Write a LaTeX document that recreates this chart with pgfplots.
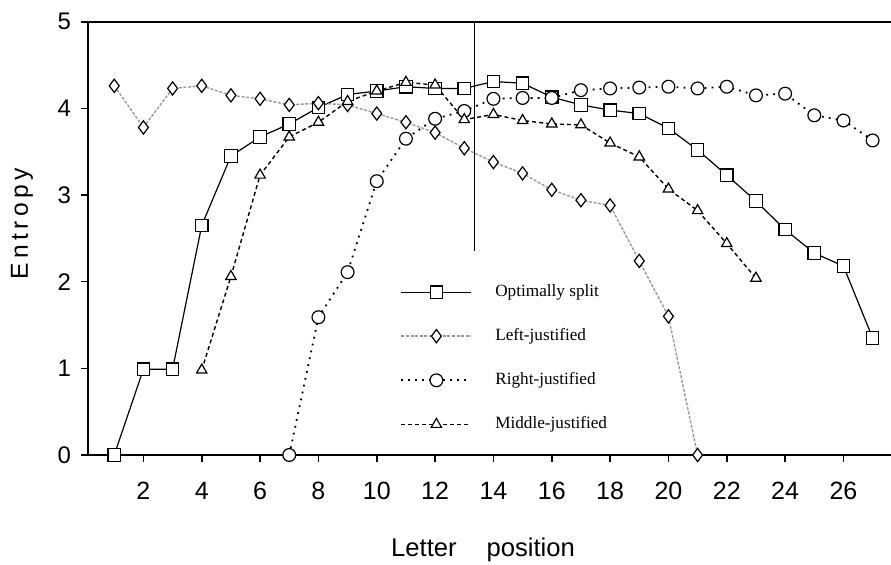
\documentclass[border=0pt]{standalone}
\usepackage{fontspec}
\setmainfont{Liberation Serif}
\newfontfamily\hsans{Liberation Sans}
\newfontfamily\hsansls{Liberation Sans}[LetterSpace=18]
\usepackage{pgfplots}
\pgfplotsset{compat=1.18}
\begin{document}
\begin{tikzpicture}
\path[use as bounding box] (-44pt,-54.5pt) rectangle (401.5pt,227.5pt);
\begin{axis}[
  at={(0,0)}, anchor=south west,
  width=401.5pt, height=216.65pt, scale only axis,
  xmin=0.1, xmax=27.63, ymin=0, ymax=5,
  axis x line=box, axis y line=left,
  axis line style={-, line width=0.9pt},
  every tick/.style={black, line width=0.8pt},
  xtick={2,4,...,26}, ytick={0,1,2,3,4,5},
  xtick pos=left, ytick pos=left,
  tick align=outside, major tick length=3.5pt,
  /pgf/number format/assume math mode=true,
  xticklabel style={font=\hsans\fontsize{12.5}{14}\selectfont, anchor=base, yshift=-18.5pt},
  yticklabel style={font=\hsans\fontsize{12}{14}\selectfont, xshift=-1.5pt},
  xlabel={Letter\hspace{15pt}position},
  ylabel={Entropy},
  every axis x label/.style={at={(axis description cs:0.492,0)}, anchor=center, yshift=-47.5pt, font=\hsans\fontsize{12.8}{15}\selectfont},
  every axis y label/.style={at={(axis description cs:-0.0822,0.534)}, anchor=center, rotate=90, font=\hsansls\fontsize{12.3}{15}\selectfont},
  legend style={at={(axis cs:10.8,1.97)}, anchor=north west, draw=none, fill=none,
    font=\fontsize{8.6}{10}\selectfont, row sep=14.5pt, column sep=11.5pt, inner sep=0pt,
    nodes={inner sep=0pt}},
  legend cell align=left,
  legend image code/.code={\draw[mark repeat=2,mark phase=2] plot coordinates {(0pt,0pt) (17.5pt,0pt) (35pt,0pt)};},
]
\addplot[black, line width=0.9pt, forget plot] coordinates {(13.35,2.35) (13.35,5)};

\addplot[black, line width=0.6pt, mark=square*, mark size=3.1pt,
  mark options={solid, fill=white, draw=black, line width=0.6pt}] coordinates {
(1,0) (2,0.99) (3,0.99) (4,2.65) (5,3.45) (6,3.67) (7,3.82) (8,4.01) (9,4.16)
(10,4.20) (11,4.25) (12,4.23) (13,4.23) (14,4.31) (15,4.29) (16,4.13) (17,4.04)
(18,3.98) (19,3.94) (20,3.77) (21,3.52) (22,3.23) (23,2.93) (24,2.60) (25,2.33)
(26,2.18) (27,1.35)};
\addlegendentry{Optimally split}

\addplot[black!40, line width=0.7pt, dash pattern=on 1.5pt off 0.8pt, mark=diamond*, mark size=3.3pt,
  mark options={solid, fill=white, draw=black, line width=0.6pt}] coordinates {
(1,4.26) (2,3.78) (3,4.23) (4,4.26) (5,4.15) (6,4.11) (7,4.04) (8,4.06) (9,4.04)
(10,3.94) (11,3.84) (12,3.72) (13,3.54) (14,3.38) (15,3.25) (16,3.06) (17,2.94)
(18,2.88) (19,2.24) (20,1.60) (21,0)};
\addlegendentry{Left-justified}

\addplot[black, line width=0.9pt, dash pattern=on 0.9pt off 2.6pt, mark=*, mark size=3.2pt,
  mark options={solid, fill=white, draw=black, line width=0.6pt}] coordinates {
(7,0) (8,1.59) (9,2.11) (10,3.16) (11,3.65) (12,3.88) (13,3.97) (14,4.11) (15,4.12)
(16,4.12) (17,4.21) (18,4.23) (19,4.24) (20,4.25) (21,4.23) (22,4.25) (23,4.15)
(24,4.17) (25,3.92) (26,3.86) (27,3.63)};
\addlegendentry{Right-justified}

\addplot[black, line width=0.7pt, dash pattern=on 2pt off 1.5pt, mark=triangle*, mark size=3pt,
  mark options={solid, fill=white, draw=black, line width=0.6pt}] coordinates {
(4,0.98) (5,2.06) (6,3.23) (7,3.67) (8,3.84) (9,4.08) (10,4.20) (11,4.30) (12,4.27)
(13,3.87) (14,3.93) (15,3.86) (16,3.82) (17,3.81) (18,3.60) (19,3.44) (20,3.07)
(21,2.82) (22,2.44) (23,2.04)};
\addlegendentry{Middle-justified}
\end{axis}
\end{tikzpicture}
\end{document}
